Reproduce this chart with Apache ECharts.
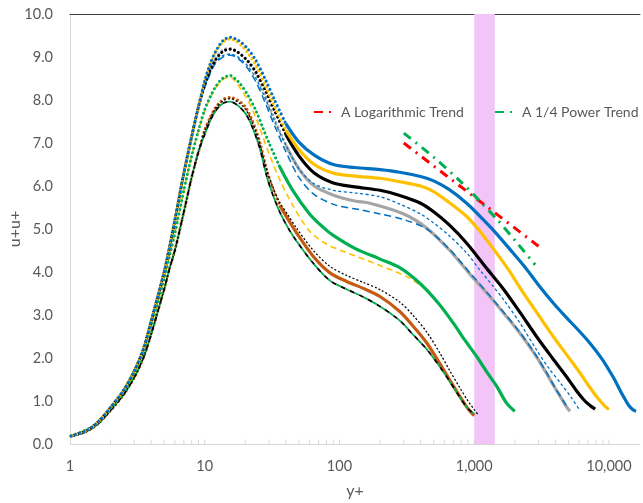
<!DOCTYPE html>
<html><head><meta charset="utf-8">
<script src="https://cdn.jsdelivr.net/npm/echarts@6/dist/echarts.min.js"></script>
<style>html,body{margin:0;padding:0;background:#fff}#c{width:643px;height:503px}</style>
</head><body><div id="c"></div>
<script>
// ---------- data (y+, u+u+) ----------
const xTickLabels = [1, 10, 100, 1000, 10000];
const yTickLabels = [0, 1, 2, 3, 4, 5, 6, 7, 8, 9, 10];
const tickValues = [2,3,4,5,6,7,8,9,10,20,30,40,50,60,70,80,90,100,200,300,400,500,600,700,800,900,1000,2000,3000,4000,5000,6000,7000,8000,9000,10000];
const bandRange = [1000, 1420];

const wallTop = [[1,0.18],[1.3,0.3],[1.6,0.5],[2,0.85],[2.5,1.25],[3,1.7],[3.5,2.2],[4,2.85],[4.5,3.45],[5,4.0],[5.5,4.6],[6,5.2],[7,6.3],[8,7.15],[9,7.85]];
const wallMid = [[1,0.18],[1.5,0.42],[2,0.83],[2.5,1.22],[3,1.65],[3.5,2.15],[4,2.75],[4.5,3.3],[5,3.85],[5.5,4.4],[6,4.9],[7,5.9],[8,6.7],[9,7.3]];
const wallLow = [[1,0.17],[1.3,0.28],[1.6,0.46],[2,0.78],[2.5,1.15],[3,1.55],[3.5,2.0],[4,2.55],[4.5,3.1],[5,3.6],[5.5,4.1],[6,4.5],[7,5.4],[8,6.2],[9,6.8]];

const blueSolid = [[10,8.45],[11,8.85],[12,9.12],[13,9.3],[14,9.41],[15.5,9.46],[17,9.42],[19,9.32],[21,9.18],[24,8.92],[28,8.5],[33,8.0],[40,7.45],[50,7.02],[65,6.72],[90,6.5],[130,6.43],[200,6.38],[280,6.32],[400,6.22],[500,6.12],[650,5.92],[880,5.6],[1100,5.3],[1380,4.98],[1850,4.52],[2400,4.1],[3050,3.67],[3860,3.28],[4800,2.95],[5800,2.68],[6850,2.43],[8000,2.17],[9000,1.95],[10000,1.72],[11000,1.5],[12000,1.27],[13000,1.07],[14000,0.9],[15000,0.8],[15900,0.76]];
const yellowSolid = [[10,8.43],[11,8.83],[12,9.1],[13,9.27],[14,9.37],[15.5,9.42],[17,9.37],[19,9.25],[21,9.08],[24,8.8],[28,8.35],[33,7.85],[40,7.3],[50,6.85],[65,6.5],[90,6.3],[130,6.23],[200,6.18],[280,6.1],[400,6.0],[500,5.87],[650,5.62],[880,5.29],[1100,4.95],[1380,4.55],[1800,4.05],[2200,3.62],[3000,3.0],[3860,2.5],[5000,2.02],[6100,1.65],[7200,1.32],[8200,1.08],[9200,0.9],[10000,0.8]];
const blackSolid = [[10,8.35],[11,8.7],[12,8.93],[13,9.07],[14,9.15],[15.5,9.18],[17,9.14],[19,9.03],[21,8.9],[24,8.65],[28,8.25],[33,7.75],[40,7.2],[50,6.7],[65,6.3],[90,6.07],[130,5.98],[200,5.9],[280,5.78],[400,5.6],[500,5.4],[650,5.1],[880,4.67],[1240,4.08],[1650,3.6],[2200,3.05],[2900,2.5],[3800,2.0],[4830,1.57],[5700,1.25],[6500,1.03],[7200,0.9],[7900,0.81]];
const blueShortDash = [[10,8.3],[11,8.65],[12,8.87],[13,8.99],[14,9.05],[15.5,9.07],[17,9.03],[19,8.92],[21,8.78],[24,8.5],[28,8.05],[33,7.5],[40,6.95],[50,6.4],[65,6.05],[90,5.9],[130,5.84],[200,5.75],[280,5.58],[400,5.35],[500,5.14],[650,4.85],[880,4.44],[1100,4.05],[1380,3.67],[1650,3.36],[2200,2.8],[2900,2.19],[3600,1.75],[4360,1.42],[5200,1.1],[6000,0.81]];
const graySolid = [[10,8.35],[11,8.72],[12,8.95],[13,9.1],[14,9.18],[15.5,9.2],[17,9.15],[19,9.03],[21,8.88],[24,8.6],[28,8.12],[33,7.55],[40,6.95],[50,6.4],[65,6.0],[95,5.76],[130,5.65],[168,5.6],[300,5.35],[445,5.02],[660,4.5],[930,3.95],[1240,3.51],[1700,3.0],[2180,2.58],[2800,2.1],[3430,1.65],[3900,1.35],[4360,1.1],[4800,0.88],[5140,0.76]];
const blueLongDash = [[10,8.3],[12,8.85],[14,9.02],[15.5,9.04],[17,9.0],[19,8.88],[21,8.72],[24,8.42],[28,7.95],[33,7.4],[40,6.8],[50,6.2],[65,5.8],[95,5.55],[142,5.45],[200,5.35],[300,5.22],[445,5.0],[660,4.52],[930,3.98],[1240,3.53],[1700,3.02],[2180,2.6],[2800,2.12],[3430,1.67],[4000,1.3],[4600,1.0],[5000,0.82]];
const greenSolid = [[10,7.78],[11,8.08],[12,8.3],[13,8.45],[14,8.53],[15.5,8.57],[17,8.48],[18.3,8.38],[21,8.1],[24,7.75],[27,7.35],[30,7.0],[36,6.45],[45,5.9],[60,5.35],[75,5.05],[90,4.85],[130,4.55],[200,4.3],[280,4.1],[400,3.72],[550,3.25],[700,2.81],[850,2.42],[1040,2.04],[1250,1.66],[1470,1.34],[1740,0.95],[2000,0.76]];
const yellowDash = [[10,7.75],[11,8.05],[12,8.27],[13,8.42],[14,8.5],[15.5,8.53],[17,8.42],[19,8.2],[21,7.98],[24,7.58],[27,7.15],[30,6.75],[36,6.15],[45,5.55],[60,4.95],[80,4.65],[113,4.45],[200,4.15],[335,3.85],[450,3.55],[550,3.25],[700,2.81],[850,2.42],[1040,2.04],[1250,1.66],[1470,1.34],[1740,0.95],[2000,0.76]];
const brownSolid = [[10,7.3],[11,7.6],[12,7.82],[13,7.95],[14,8.03],[15.5,8.06],[17.5,8.0],[19.9,7.85],[22,7.6],[24.3,7.25],[26,6.95],[29,6.35],[32,5.95],[36,5.55],[42,5.2],[48,4.91],[64,4.36],[85,3.98],[113,3.78],[150,3.62],[200,3.43],[280,3.08],[350,2.75],[445,2.35],[560,1.85],[660,1.48],[785,1.1],[900,0.82],[1000,0.66]];
const blackGreenDash = [[10,7.2],[11,7.52],[12,7.74],[13,7.87],[14,7.94],[15.5,7.96],[17.5,7.88],[19.9,7.7],[22,7.45],[24.3,7.1],[26,6.8],[29,6.2],[32,5.8],[36,5.4],[42,5.0],[48,4.72],[64,4.2],[85,3.8],[113,3.6],[150,3.42],[200,3.2],[280,2.87],[350,2.55],[445,2.2],[560,1.78],[660,1.45],[785,1.08],[900,0.82],[1000,0.7]];
const blackDot = [[10,7.28],[12,7.8],[14,8.0],[15.5,8.03],[17.5,7.96],[19.9,7.8],[22,7.55],[24.3,7.2],[26,6.9],[29,6.35],[32,5.98],[36,5.62],[42,5.3],[48,5.02],[64,4.5],[85,4.13],[113,3.92],[150,3.76],[200,3.59],[280,3.3],[350,3.0],[445,2.6],[560,2.1],[660,1.7],[785,1.3],[900,1.0],[1000,0.8],[1070,0.68]];

const logTrend = [[300,7.0],[3000,4.6]];
const powerTrend = [[300,7.23],[500,6.67],[800,6.09],[1100,5.65],[1500,5.2],[2000,4.74],[2830,4.17]];

// ---------- chart ----------
const FONT = 'Lato';
const GREY_TXT = '#595959';
const chart = echarts.init(document.getElementById('c'));

function splitAt(d, cut) {
  let i = d.findIndex(p => p[0] >= cut);
  if (i < 0) i = d.length - 1;
  return [d.slice(0, i + 1), d.slice(i)];
}
const series = [];
series.push({
  type: 'line', data: [], silent: true, z: 1,
  markArea: { silent: true, itemStyle: { color: '#F3C4F7', opacity: 1 },
    data: [[{ xAxis: bandRange[0], yAxis: 0 }, { xAxis: bandRange[1], yAxis: 10 }]] }
});
series.push({
  type: 'scatter', data: tickValues.map(v => [v, 0]), symbol: 'rect', symbolSize: [1, 5],
  symbolOffset: [0, -2], itemStyle: { color: '#d0d0d0' }, silent: true, clip: false, z: 3
});
let dotOff = 0;
function marker(name, wall, tail, color) {
  const all = wall.concat(tail);
  const [a, b] = splitAt(all, 36);
  dotOff += 1.3;
  series.push({ name: name + ' near', type: 'line', data: a, smooth: 0.3, symbol: 'none', z: 2,
    lineStyle: { color, width: 3, type: [0.1, 4.4], cap: 'round', dashOffset: dotOff } });
  series.push({ name, type: 'line', data: b, smooth: 0.3, symbol: 'none', z: 2,
    lineStyle: { color, width: 3.2 } });
}
function dashed(name, wall, tail, color, width, dash, off) {
  series.push({ name, type: 'line', data: wall.concat(tail), smooth: 0.3, symbol: 'none', z: 2,
    lineStyle: { color, width, type: dash, dashOffset: off || 0 } });
}
marker('brown', wallLow, brownSolid, '#C55A11');
dashed('blackDash', wallLow, blackGreenDash, '#000000', 1.8, [5, 5], 0);
dashed('greenDash', wallLow, blackGreenDash, '#00B050', 1.8, [5, 5], 5);
dashed('blackDot', wallLow, blackDot, '#000000', 1.3, [2, 2], 0);
dashed('yellowDash', wallMid, yellowDash, '#FFC000', 1.6, [6, 4], 0);
marker('green', wallMid, greenSolid, '#00B050');
marker('gray', wallTop, graySolid, '#A5A5A5');
dashed('blueLong', wallTop, blueLongDash, '#0070C0', 1.5, [7, 4], 0);
dashed('blueShort', wallTop, blueShortDash, '#0070C0', 1.3, [3, 2.5], 0);
marker('black', wallTop, blackSolid, '#000000');
marker('yellow', wallTop, yellowSolid, '#FFC000');
marker('blue', wallTop, blueSolid, '#0070C0');
series.push({ name: 'A Logarithmic Trend', type: 'line', data: logTrend, symbol: 'none', z: 4,
  itemStyle: { color: '#FF0000' },
  lineStyle: { color: '#FF0000', width: 3, type: [9, 6, 2, 6] } });
series.push({ name: 'A 1/4 Power Trend', type: 'line', data: powerTrend, smooth: 0.3, symbol: 'none', z: 4,
  itemStyle: { color: '#00B050' },
  lineStyle: { color: '#00B050', width: 3, type: [9, 6, 2, 6] } });

const isPow10 = v => Math.abs(Math.log10(v) - Math.round(Math.log10(v))) < 1e-6;

chart.setOption({
  animation: false,
  backgroundColor: '#ffffff',
  grid: { left: 70, right: 3, top: 14, bottom: 59, containLabel: false, outerBoundsMode: 'none' },
  legend: {
    data: ['A Logarithmic Trend', 'A 1/4 Power Trend'],
    orient: 'horizontal', left: 313, top: 105, padding: 0, width: 330,
    itemWidth: 22, itemHeight: 10, itemGap: 30,
    itemStyle: { opacity: 0 },
    textStyle: { fontFamily: FONT, fontSize: 14, color: GREY_TXT }
  },
  xAxis: [{
    type: 'log', logBase: 10, min: 1, max: 17000,
    name: 'y+', nameLocation: 'middle', nameGap: 39, nameMoveOverlap: false,
    nameTextStyle: { fontFamily: FONT, fontSize: 16, color: GREY_TXT },
    axisLine: { show: true, lineStyle: { color: '#d9d9d9', width: 1 } },
    axisTick: { show: false }, splitLine: { show: false },
    axisLabel: { margin: 15, fontFamily: FONT, fontSize: 14.5, color: GREY_TXT,
      formatter: v => (isPow10(v) && xTickLabels.indexOf(Math.round(v)) >= 0) ? Math.round(v).toLocaleString('en-US') : '' }
  }, {
    type: 'log', logBase: 10, min: 1, max: 17000, position: 'top',
    axisLine: { show: true, onZero: false, lineStyle: { color: '#404040', width: 1 } },
    axisTick: { show: false }, axisLabel: { show: false }, splitLine: { show: false }
  }],
  yAxis: {
    type: 'value', min: yTickLabels[0], max: yTickLabels[yTickLabels.length - 1], interval: 1,
    name: 'u+u+', nameLocation: 'middle', nameGap: 47, nameRotate: 90, nameMoveOverlap: false,
    nameTextStyle: { fontFamily: FONT, fontSize: 16, color: GREY_TXT },
    axisLine: { show: true, lineStyle: { color: '#d9d9d9' } },
    axisTick: { show: false }, splitLine: { show: false },
    axisLabel: { margin: 17, fontFamily: FONT, fontSize: 14.5, color: GREY_TXT, formatter: v => v.toFixed(1) }
  },
  series
});
</script></body></html>
